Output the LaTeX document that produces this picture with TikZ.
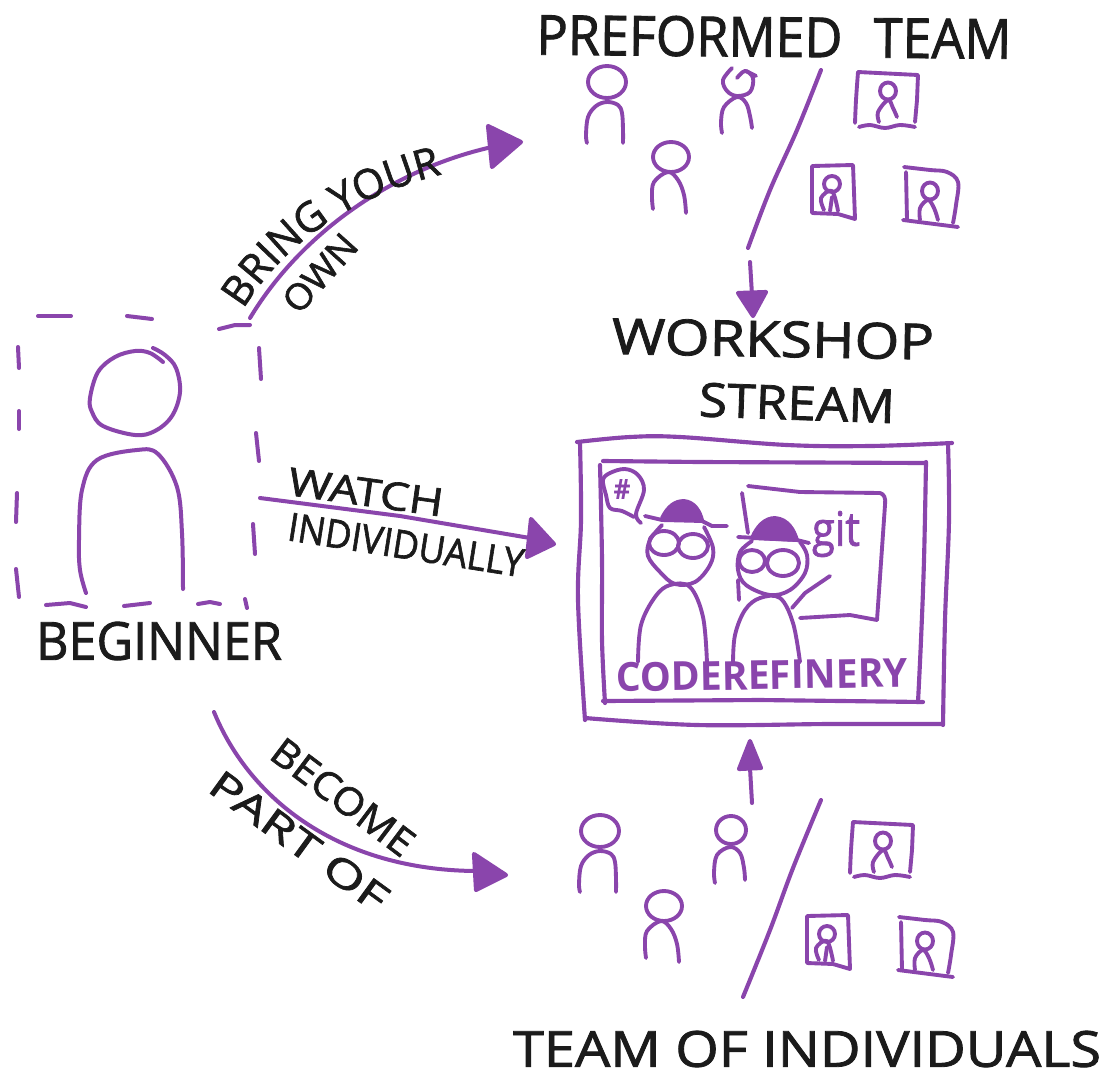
\documentclass[tikz,border=0pt]{standalone}
\usepackage{fontspec}
\usepackage{graphicx}
\usetikzlibrary{decorations.text}
\newfontfamily\handfont[FakeBold=1.6]{Open Sans}
\newfontfamily\handheavy{Open Sans Bold}
\definecolor{ink}{HTML}{1B1B1B}
\definecolor{vio}{HTML}{8A45AC}
\newdimen\pxu \pxu=0.75pt
\newcommand{\hw}[3]{\resizebox{#1\pxu}{#2\pxu}{\fontsize{40}{44}\handfont #3}}
\newcommand{\sk}[1]{plot[smooth,tension=0.6] coordinates {#1}}
% filled hand-drawn arrow head
\newcommand{\headat}[3]{\filldraw[stroke,fill=vio] #1 -- #2 -- #3 -- cycle;}
\newcommand{\teamleft}[2]{%
 \begin{scope}[shift={(#1,#2)}]
  % person A
  \draw[thinstroke] (607,82) ellipse [x radius=19, y radius=16];
  \draw[thinstroke] \sk{(587,143)(586,135)(588,117)(596,106)(607,102)(618,105)(622,113)(623,130)(623,143)};
  \draw[thinstroke] (607,98) -- (607,102);
  % person C
  \draw[thinstroke] (671,157) ellipse [x radius=18, y radius=15];
  \draw[thinstroke] \sk{(653,209)(652,197)(654,182)(668,172)(678,180)(684,195)(686,213)};
 \end{scope}}
\newcommand{\frames}[2]{%
 \begin{scope}[shift={(#1,#2)}]
  % frame 1
  \draw[thinstroke] \sk{(855,123)(856,100)(858,72)};
  \draw[thinstroke] (858,72) -- (918,75) -- (917,100) -- (915,122);
  \draw[thinstroke] \sk{(859,127)(870,125)(885,128)(900,125)(915,127)};
  \draw[thinstroke] (888,91) ellipse [x radius=8, y radius=8.5];
  \draw[thinstroke] \sk{(879,122)(878,112)(888,100)(893,108)(897,117)};
  % frame 2
  \draw[thinstroke] (812,166) -- (853,165) -- (855,219) -- (838,214) -- (812,213) -- cycle;
  \draw[thinstroke] (832,184) ellipse [x radius=8, y radius=8];
  \draw[thinstroke] \sk{(824,210)(821,198)(832,191)(838,211)};
  \draw[thinstroke] (832,197) -- (830,211);
  % frame 3
  \draw[thinstroke] \sk{(904,167)(930,170)(947,172)(958,182)(956,205)(953,223)};
  \draw[thinstroke] (958,227) -- (903,220);
  \draw[thinstroke] (906,172) -- (907,220);
  \draw[thinstroke] (930,191) ellipse [x radius=8, y radius=8.5];
  \draw[thinstroke] \sk{(920,220)(920,208)(928,200)(934,208)(938,220)};
 \end{scope}}
\tikzset{
 stroke/.style={draw=vio,line width=3.1pt,line cap=round,line join=round},
 thinstroke/.style={draw=vio,line width=2.9pt,line cap=round,line join=round},
 bigstroke/.style={draw=vio,line width=3pt,line cap=round,line join=round},
 hand/.style={inner sep=0pt,outer sep=0pt,text=ink,anchor=center},
 handvio/.style={inner sep=0pt,outer sep=0pt,text=vio,anchor=center},
}
\begin{document}
\begin{tikzpicture}[x=0.75pt,y=-0.75pt]
\useasboundingbox[fill=white] (0,0) rectangle (1109,1075);

% ---------- beginner
\draw[bigstroke] \sk{(163,362)(150,353)(135,351)(115,357)(98,372)(90,398)(92,412)(103,426)(135,435)(155,431)(172,416)(180,392)(176,368)(165,355)(153,348)};
\draw[bigstroke] \sk{(86,593)(80,570)(79,540)(82,490)(97,460)(137,450)(158,454)(177,487)(182,533)(183,589)};
\draw[bigstroke] (38,316) -- (71,316);
\draw[bigstroke] (127,316) -- (152,319);
\draw[bigstroke] (219,329) -- (235,325) -- (250,325);
\draw[bigstroke] (259,348) -- (261,379);
\draw[bigstroke] (256,433) -- (259,461);
\draw[bigstroke] (253,524) -- (255,554);
\draw[bigstroke] (245,599) -- (247,608);
\draw[bigstroke] (46,605) -- (70,603) -- (86,607);
\draw[bigstroke] (124,606) -- (150,603);
\draw[bigstroke] (198,604) -- (210,602) -- (220,604);
\draw[bigstroke] (18,347) -- (19,368);
\draw[bigstroke] (19,411) -- (19,429);
\draw[bigstroke] (17,493) -- (16,522);
\draw[bigstroke] (16,569) -- (19,597);

% ---------- connectors
\coordinate (bringstart) at (250,318);
\coordinate (bringend) at (492,147);
\draw[bigstroke] (bringstart) .. controls (300,235) and (390,170) .. (bringend);
\headat{(488,126)}{(521,142)}{(492,167)}
\coordinate (watchstart) at (260,498);
\coordinate (watchend) at (530,538);
\draw[bigstroke] (watchstart) -- (400,516) -- (watchend);
\headat{(531,519)}{(554,544)}{(527,557)}
\coordinate (partstart) at (214,712);
\coordinate (partend) at (476,871);
\draw[bigstroke] (partstart) .. controls (250,800) and (340,870) .. (partend);
\headat{(474,854)}{(506,875)}{(476,890)}
\coordinate (preA) at (750,262);
\coordinate (preB) at (752,295);
\draw[bigstroke] (preA) -- (preB);
\headat{(738,293)}{(766,292)}{(753,316)}
\coordinate (indA) at (752,803);
\coordinate (indB) at (750,768);
\draw[bigstroke] (indA) -- (indB);
\headat{(739,769)}{(761,768)}{(750,741)}

% ---------- teams
\teamleft{0}{0}
\draw[thinstroke] \sk{(732,68)(723,80)(727,91)(737,96)(750,92)(753,78)(745,71)(737,78)};
\draw[thinstroke] (746,71) -- (756,76);
\draw[thinstroke] \sk{(722,133)(721,122)(724,107)(737,97)(746,103)(750,116)(752,128)};
\draw[stroke] \sk{(821,70)(797,130)(770,190)(748,248)};
\frames{0}{0}

\teamleft{-7}{749}
\draw[thinstroke] (731,830) ellipse [x radius=15, y radius=14];
\draw[thinstroke] \sk{(715,883)(714,872)(717,855)(730,847)(740,853)(744,868)(745,880)};
\draw[stroke] \sk{(821,800)(793,868)(770,930)(743,997)};
\frames{-5}{750}

% ---------- stream frame
\draw[stroke] \sk{(577,442)(630,437)(680,437)(787,445)(870,446)(952,443)};
\draw[stroke] \sk{(948,443)(949,520)(945,620)(943,725)};
\draw[stroke] \sk{(942,724)(830,724)(697,725)(585,718)};
\draw[stroke] \sk{(580,443)(581,520)(578,600)(585,720)};
\draw[stroke] (603,461) -- (700,462) -- (925,463);
\draw[stroke] \sk{(600,465)(602,560)(602,640)(605,703)};
\draw[stroke] (603,701) -- (760,700) -- (923,702);
\draw[stroke] \sk{(926,462)(924,560)(921,640)(918,702)};

% bubble
\draw[thinstroke] \sk{(641,523)(636,514)(644,490)(638,475)(625,469)(610,473)(603,480)(606,495)(610,508)(622,511)(634,517)};
\node[handvio] (hashsign) at (622,489) {\resizebox{17\pxu}{20\pxu}{\fontsize{40}{44}\handheavy\#}};

% person 1
\filldraw[thinstroke,fill=vio] (662,518) .. controls (668,506) and (675,501) .. (684,501) .. controls (695,502) and (700,512) .. (702,520) -- cycle;
\draw[thinstroke] (645,516) -- (662,520) -- (702,521) -- (712,526) -- (727,526);
\draw[thinstroke] \sk{(662,525)(650,540)(648,556)(660,572)(675,584)(695,582)(710,565)(713,548)(704,527)};
\draw[thinstroke] (664,543) ellipse [x radius=15, y radius=12];
\draw[thinstroke] (693,546) ellipse [x radius=15, y radius=12];
\draw[thinstroke] \sk{(638,662)(641,625)(655,597)(670,585)(690,587)(703,617)(707,663)};

% person 2
\filldraw[thinstroke,fill=vio] (752,538) .. controls (757,526) and (765,518) .. (775,518) .. controls (788,519) and (794,530) .. (797,540) -- cycle;
\draw[thinstroke] (738,537) -- (797,540) -- (809,543);
\draw[thinstroke] \sk{(752,541)(740,552)(738,570)(746,585)(770,595)(790,590)(805,573)(807,555)(800,542)};
\draw[thinstroke] (752,561) ellipse [x radius=13, y radius=11];
\draw[thinstroke] (783,563) ellipse [x radius=16, y radius=13];
\draw[thinstroke] \sk{(733,663)(735,635)(745,610)(760,598)(780,598)(793,623)(800,662)};
\draw[thinstroke] (792,608) -- (805,593) -- (830,576);

% board
\draw[thinstroke] (748,486) -- (800,492) -- (880,493) .. controls (884,494) and (886,498) .. (885,505) -- (877,620);
\draw[thinstroke] (800,618) -- (850,615) -- (877,620);
\draw[thinstroke] (742,493) -- (748,533);
\draw[thinstroke] (738,580) -- (739,600);

% ---------- stream labels
\node[handvio] (gitlabel) at (836,534) {\resizebox*{48\pxu}{46\pxu}{\fontsize{40}{44}\handfont git}};
\node[handvio,rotate=1] (coderefinery) at (762,675) {\resizebox{292\pxu}{29\pxu}{\fontsize{40}{44}\handheavy CODEREFINERY}};

% ---------- texts
\node[hand,rotate=-0.5] (preformed) at (774,37) {\hw{475}{40}{PREFORMED\hspace{0.6em}TEAM}};
\node[hand,rotate=-1] (workshop) at (773,339) {\hw{322}{36}{WORKSHOP}};
\node[hand,rotate=-2] (stream) at (797,403) {\hw{196}{34}{STREAM}};
\node[hand] (beginner) at (159,641) {\hw{246}{38}{BEGINNER}};
\node[hand] (teamof) at (807,1049) {\hw{588}{36}{TEAM OF INDIVIDUALS}};
\node[hand,rotate=-8] (watch) at (366,492) {\hw{156}{28}{WATCH}};
\node[hand,rotate=-9] (individually) at (406,545) {\hw{238}{28}{INDIVIDUALLY}};
\node[hand,rotate=48] (own) at (320,273) {\hw{92}{26}{OWN}};
\node[hand,rotate=-37] (become) at (343,797) {\hw{168}{28}{BECOME}};
\node[hand,rotate=-36] (partof) at (299,841) {\hw{210}{28}{PART OF}};
\path[decorate,decoration={text along path,text align=center,
   text={|\fontsize{31}{34}\handfont\color{ink}|BRING YOUR}}]
  (238,318) .. controls (280,245) and (350,195) .. (452,172);
\end{tikzpicture}
\end{document}
